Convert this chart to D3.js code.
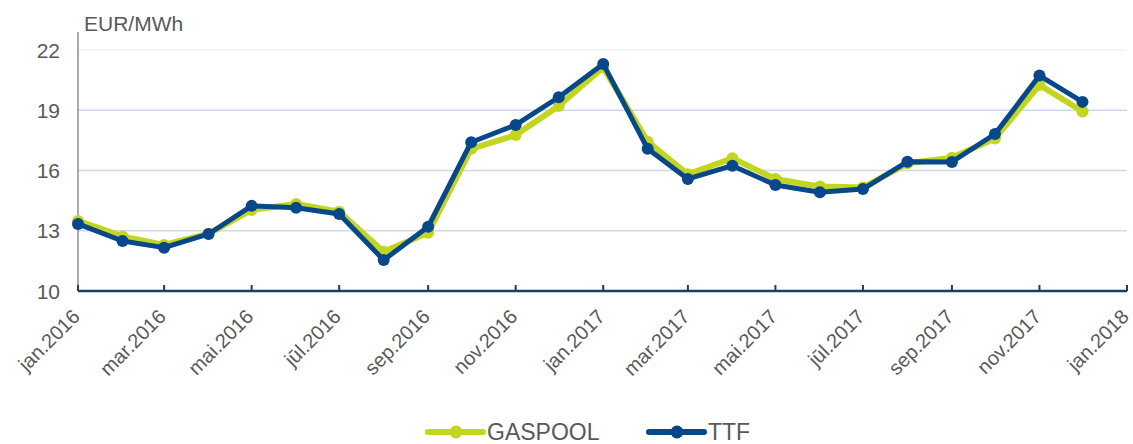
<!DOCTYPE html>
<html>
<head>
<meta charset="utf-8">
<script src="https://cdn.jsdelivr.net/npm/d3@7"></script>
<style>
  body { margin: 0; background: #fff; }
  svg { font-family: "Liberation Sans", Arial, sans-serif; }
</style>
</head>
<body>
<div id="plot"></div>
<script>
// monthly prices, jan.2016 .. dec.2017
const months = d3.range(24).map(i => new Date(2016, i, 1));
const gaspool = [13.49, 12.72, 12.29, 12.85, 14.04, 14.33, 13.95, 11.96, 12.9, 17.08, 17.77, 19.22,
                 21.14, 17.44, 15.81, 16.61, 15.58, 15.2, 15.15, 16.36, 16.64, 17.6, 20.26, 18.94];
const ttf = [13.34, 12.49, 12.16, 12.84, 14.24, 14.15, 13.84, 11.54, 13.2, 17.41, 18.27, 19.65,
             21.31, 17.08, 15.58, 16.24, 15.28, 14.92, 15.08, 16.44, 16.43, 17.82, 20.73, 19.42];
const yTicks = [10, 13, 16, 19, 22];
const monthNames = ['jan', 'feb', 'mar', 'apr', 'mai', 'jūn', 'jūl', 'aug', 'sep', 'okt', 'nov', 'dec'];

const series = [
    {name: 'GASPOOL', values: gaspool, color: '#c3d61f', width: 6},
    {name: 'TTF', values: ttf, color: '#07478a', width: 5}
];

const width = 1133;
const height = 444;
const margin = {top: 30, right: 6, bottom: 153, left: 78};

const svg = d3.select('#plot')
    .append('svg')
    .attr('width', width)
    .attr('height', height);

const x = d3.scaleTime()
    .domain([new Date(2016, 0, 1), new Date(2018, 0, 1)])
    .range([margin.left, width - margin.right]);

const y = d3.scaleLinear()
    .domain([10, 23])
    .range([height - margin.bottom, margin.top]);

// gridlines
svg.append('g')
    .selectAll('line')
    .data(yTicks.filter(d => d > 10))
    .join('line')
    .attr('x1', margin.left)
    .attr('x2', width - margin.right)
    .attr('y1', d => y(d))
    .attr('y2', d => y(d))
    .attr('stroke', d => d === 22 ? '#eef2f9' : '#ccd9ec')
    .attr('stroke-width', 1.5);

// y axis
svg.append('line')
    .attr('x1', margin.left).attr('x2', margin.left)
    .attr('y1', y(23) + 2).attr('y2', y(10))
    .attr('stroke', '#8c8c8c')
    .attr('stroke-width', 1.5);

svg.append('g')
    .selectAll('text')
    .data(yTicks)
    .join('text')
    .attr('x', margin.left - 18)
    .attr('y', d => y(d) + 7.5)
    .attr('text-anchor', 'end')
    .attr('font-size', '21px')
    .attr('fill', '#595959')
    .text(d => d);

svg.append('text')
    .attr('x', margin.left + 6)
    .attr('y', 31)
    .attr('font-size', '21px')
    .attr('fill', '#595959')
    .text('EUR/MWh');

// x axis
const xTickDates = d3.range(0, 25, 2).map(i => new Date(2016, i, 1));
const xAxis = svg.append('g')
    .attr('transform', `translate(0,${y(10)})`);

xAxis.append('line')
    .attr('x1', margin.left).attr('x2', width - margin.right)
    .attr('stroke', '#1c3c6c')
    .attr('stroke-width', 2.5);

xAxis.selectAll('line.tick')
    .data(xTickDates)
    .join('line')
    .attr('class', 'tick')
    .attr('x1', d => x(d)).attr('x2', d => x(d))
    .attr('y1', 0).attr('y2', -6)
    .attr('stroke', '#1c3c6c')
    .attr('stroke-width', 2);

xAxis.selectAll('text')
    .data(xTickDates)
    .join('text')
    .attr('transform', d => `translate(${x(d) + 3},${27}) rotate(-45)`)
    .attr('text-anchor', 'end')
    .attr('font-size', '20px')
    .attr('fill', '#595959')
    .text(d => `${monthNames[d.getMonth()]}.${d.getFullYear()}`);

// lines
const line = d3.line()
    .x((d, i) => x(months[i]))
    .y(d => y(d));

series.forEach(s => {
    const g = svg.append('g');
    g.append('path')
        .datum(s.values)
        .attr('fill', 'none')
        .attr('stroke', s.color)
        .attr('stroke-width', s.width)
        .attr('stroke-linejoin', 'round')
        .attr('d', line);
    g.selectAll('circle')
        .data(s.values)
        .join('circle')
        .attr('cx', (d, i) => x(months[i]))
        .attr('cy', d => y(d))
        .attr('r', 6)
        .attr('fill', s.color);
});

// legend
const legendItems = [
    {s: series[0], x: 428},
    {s: series[1], x: 649}
];
const legend = svg.append('g').attr('transform', 'translate(0,432)');
legendItems.forEach(({s, x: lx}) => {
    legend.append('line')
        .attr('x1', lx).attr('x2', lx + 55)
        .attr('stroke', s.color)
        .attr('stroke-width', 6)
        .attr('stroke-linecap', 'round');
    legend.append('circle')
        .attr('cx', lx + 28)
        .attr('r', 6.5)
        .attr('fill', s.color);
    legend.append('text')
        .attr('x', lx + 59)
        .attr('y', 8)
        .attr('font-size', '23px')
        .attr('fill', '#595959')
        .text(s.name);
});
</script>
</body>
</html>
